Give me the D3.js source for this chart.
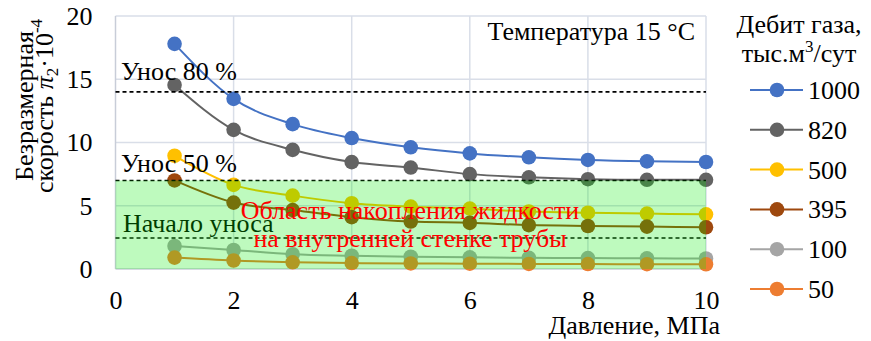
<!DOCTYPE html>
<html>
<head>
<meta charset="utf-8">
<script src="https://cdn.jsdelivr.net/npm/d3@7"></script>
<style>
  html, body { margin: 0; padding: 0; background: #fff; }
  svg text { font-family: "Liberation Serif", "Times New Roman", Tinos, "DejaVu Serif", "Noto Serif", serif; }
</style>
</head>
<body>
<svg id="chart" width="871" height="341"></svg>
<script>
// Pressure, MPa
const pressure = [1, 2, 3, 4, 5, 6, 7, 8, 9, 10];

// Dimensionless velocity π2·10^-4 for each gas flow rate
const flowRates = ["1000", "820", "500", "395", "100", "50"];
const v1000 = [17.8, 13.45, 11.45, 10.35, 9.62, 9.14, 8.83, 8.62, 8.51, 8.46];
const v820  = [14.55, 11.0, 9.42, 8.45, 8.02, 7.5, 7.25, 7.1, 7.05, 7.05];
const v500  = [8.95, 6.65, 5.8, 5.2, 4.93, 4.77, 4.55, 4.45, 4.38, 4.32];
const v395  = [7.0, 5.25, 4.66, 4.1, 3.75, 3.65, 3.47, 3.4, 3.35, 3.3];
const v100  = [1.82, 1.5, 1.17, 1.05, 0.97, 0.92, 0.88, 0.86, 0.84, 0.83];
const v50   = [0.9, 0.67, 0.53, 0.47, 0.44, 0.42, 0.4, 0.39, 0.38, 0.37];
const seriesValues = [v1000, v820, v500, v395, v100, v50];
const seriesColors = ["#4472C4", "#636363", "#FFC000", "#9E480E", "#A5A5A5", "#ED7D31"];

// Threshold levels
const carryOver80 = 14.0;
const carryOver50 = 7.0;
const carryOverStart = 2.45;

const xTicks = [0, 2, 4, 6, 8, 10];
const yTicks = [0, 5, 10, 15, 20];

const FONT = "'Liberation Serif', 'Times New Roman', Tinos, 'DejaVu Serif', 'Noto Serif', serif";
const svg = d3.select("#chart").attr("font-family", FONT);
const FS = 26;

const x = d3.scaleLinear().domain([0, 10]).range([115.5, 706]);
const y = d3.scaleLinear().domain([0, 20]).range([269, 16]);

// Gridlines
const grid = svg.append("g");
grid.selectAll("line.v").data(xTicks.slice(1)).join("line")
  .attr("x1", d => x(d)).attr("x2", d => x(d))
  .attr("y1", y(0)).attr("y2", y(20))
  .attr("stroke", "#D9DEE8").attr("stroke-width", 1.5);
grid.selectAll("line.h").data(yTicks.slice(1)).join("line")
  .attr("x1", x(0)).attr("x2", x(10))
  .attr("y1", d => y(d)).attr("y2", d => y(d))
  .attr("stroke", "#D9DEE8").attr("stroke-width", 1.5);
// Left and bottom axis lines
grid.append("line").attr("x1", x(0)).attr("x2", x(0)).attr("y1", y(0)).attr("y2", y(20))
  .attr("stroke", "#C8CDD8").attr("stroke-width", 1.5);
grid.append("line").attr("x1", x(0)).attr("x2", x(10)).attr("y1", y(0)).attr("y2", y(0))
  .attr("stroke", "#C8CDD8").attr("stroke-width", 1.5);

// Tick labels via d3 axes
const xAxis = svg.append("g").attr("transform", `translate(0,${y(0)})`)
  .call(d3.axisBottom(x).tickValues(xTicks).tickSize(0).tickPadding(22));
const yAxis = svg.append("g").attr("transform", `translate(${x(0)},0)`)
  .call(d3.axisLeft(y).tickValues(yTicks).tickSize(0).tickPadding(23));
[xAxis, yAxis].forEach(a => {
  a.attr("font-family", FONT).attr("font-size", FS);
  a.select(".domain").remove();
  a.selectAll("text").attr("font-size", FS).attr("fill", "#000");
});

// Series
const line = d3.line().x((d, i) => x(pressure[i])).y(d => y(d)).curve(d3.curveMonotoneX);
const seriesG = svg.append("g");
seriesValues.forEach((vals, k) => {
  seriesG.append("path").datum(vals).attr("d", line)
    .attr("fill", "none").attr("stroke", seriesColors[k]).attr("stroke-width", 2);
});
seriesValues.forEach((vals, k) => {
  seriesG.selectAll(null).data(vals).join("circle")
    .attr("cx", (d, i) => x(pressure[i])).attr("cy", d => y(d))
    .attr("r", 7.3).attr("fill", seriesColors[k]);
});

// Threshold dashed lines and captions
const thr = svg.append("g");
[carryOver80, carryOver50, carryOverStart].forEach(v => {
  thr.append("line").attr("x1", x(0)).attr("x2", x(10))
    .attr("y1", y(v)).attr("y2", y(v))
    .attr("stroke", "#000").attr("stroke-width", 1.6).attr("stroke-dasharray", "4,3");
});
thr.append("text").attr("x", 121).attr("y", y(carryOver80) - 12)
  .attr("font-size", FS).text("Унос 80 %");
thr.append("text").attr("x", 121).attr("y", y(carryOver50) - 8)
  .attr("font-size", FS).text("Унос 50 %");
thr.append("text").attr("x", 123).attr("y", y(carryOverStart) - 6)
  .attr("font-size", FS).text("Начало уноса");

// Liquid accumulation zone
svg.append("rect")
  .attr("x", x(0)).attr("y", y(carryOver50))
  .attr("width", x(10) - x(0)).attr("height", y(0) - y(carryOver50))
  .attr("fill", "rgb(0,235,0)").attr("fill-opacity", 0.255);

const zone = svg.append("text").attr("x", 410).attr("fill", "#FF0000")
  .attr("font-size", FS).attr("text-anchor", "middle");
zone.append("tspan").attr("x", 410).attr("y", 219).text("Область накопления жидкости");
zone.append("tspan").attr("x", 410).attr("y", 247).text("на внутренней стенке трубы");

// Temperature caption
svg.append("text").attr("x", 695).attr("y", 40).attr("text-anchor", "end")
  .attr("font-size", FS).text("Температура 15 °C");

// Axis titles
svg.append("text").attr("x", 720).attr("y", 334).attr("text-anchor", "end")
  .attr("font-size", FS).text("Давление, МПа");

const yTitle = svg.append("g").attr("transform", "translate(0,106) rotate(-90)");
yTitle.append("text").attr("x", 0).attr("y", 33).attr("text-anchor", "middle")
  .attr("font-size", FS).text("Безразмерная");
const yt2 = yTitle.append("text").attr("x", 0).attr("y", 53).attr("text-anchor", "middle")
  .attr("font-size", FS);
yt2.append("tspan").text("скорость ");
yt2.append("tspan").attr("font-style", "italic").text("π");
yt2.append("tspan").attr("font-size", 17).attr("dy", 5).text("2");
yt2.append("tspan").attr("dy", -5).text("·10");
yt2.append("tspan").attr("font-size", 17).attr("dy", -11).text("-4");

// Legend
const lg = svg.append("g");
lg.append("text").attr("x", 799).attr("y", 33).attr("text-anchor", "middle")
  .attr("font-size", FS).text("Дебит газа,");
const lt2 = lg.append("text").attr("x", 799).attr("y", 62).attr("text-anchor", "middle")
  .attr("font-size", FS);
lt2.append("tspan").text("тыс.м");
lt2.append("tspan").attr("font-size", 17).attr("dy", -10).text("3");
lt2.append("tspan").attr("dy", 10).text("/сут");

const legendY = d3.scalePoint().domain(flowRates).range([90, 289]);
flowRates.forEach((name, k) => {
  const cy = legendY(name);
  lg.append("line").attr("x1", 750).attr("x2", 803).attr("y1", cy).attr("y2", cy)
    .attr("stroke", seriesColors[k]).attr("stroke-width", 2);
  lg.append("circle").attr("cx", 777).attr("cy", cy).attr("r", 7.3).attr("fill", seriesColors[k]);
  lg.append("text").attr("x", 808).attr("y", cy + 9).attr("font-size", FS).text(name);
});
</script>
</body>
</html>
